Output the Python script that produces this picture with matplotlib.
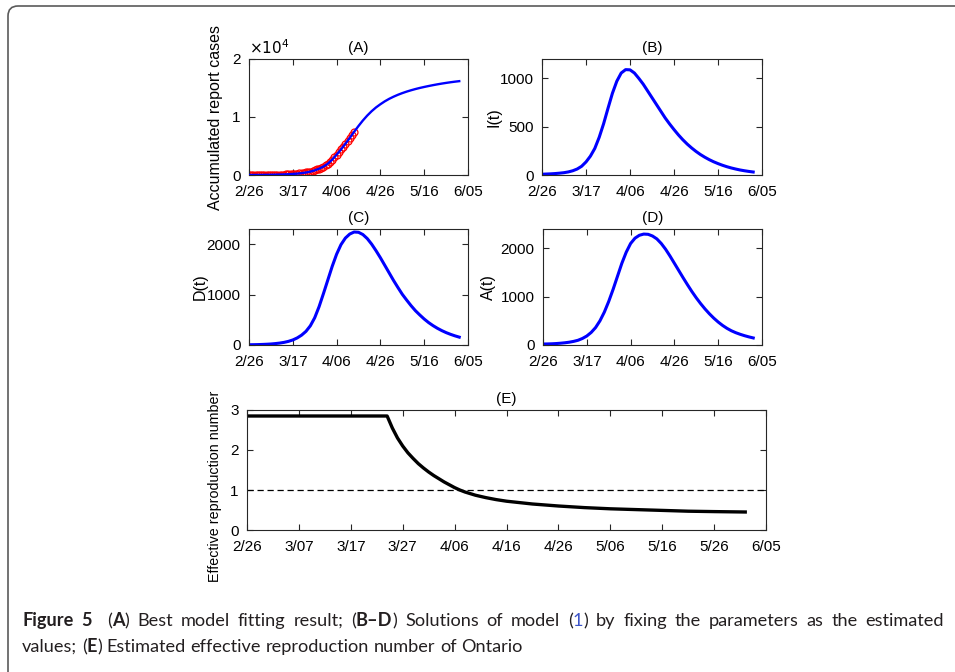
import re
import matplotlib
matplotlib.use("Agg")
import matplotlib.pyplot as plt
from matplotlib.patches import FancyBboxPatch
from matplotlib.font_manager import FontProperties, fontManager

W, H = 955, 672

# ---- data (day 0 = 2/26) ----
xtick_days_20 = [0, 20, 40, 60, 80, 100]
xtick_labels_20 = ['2/26', '3/17', '4/06', '4/26', '5/16', '6/05']
xtick_days_10 = [0, 10, 20, 30, 40, 50, 60, 70, 80, 90, 100]
xtick_labels_10 = ['2/26', '3/07', '3/17', '3/27', '4/06', '4/16',
                   '4/26', '5/06', '5/16', '5/26', '6/05']

# reported cumulative cases (daily, day 0..48)
report_cases = [5, 6, 7, 8, 15, 18, 20, 22, 25, 28, 30,
                32, 34, 37, 41, 59, 79, 103, 145, 177,
                189, 214, 257, 300, 340, 380, 440, 510, 600, 720,
                850, 960, 1100, 1250, 1450, 1700, 1980, 2300, 2660, 3050,
                3500, 3950, 4420, 4900, 5380, 5880, 6380, 6900, 7400]

# model solutions every 2 days (day 0..96)
model_days = list(range(0, 97, 2))
model_cum = [0, 5, 10, 18, 28, 40, 55, 75, 100, 135,
             180, 240, 320, 430, 580, 800, 1080, 1450, 1950, 2650,
             3500, 4400, 5380, 6380, 7450, 8450, 9400, 10250, 11000, 11650,
             12200, 12700, 13130, 13500, 13830, 14120, 14380, 14610, 14820, 15010,
             15180, 15340, 15490, 15630, 15760, 15880, 15990, 16090, 16180]
model_I = [8, 10, 12, 15, 19, 24, 32, 44, 62, 90,
           135, 195, 275, 390, 530, 690, 845, 970, 1055, 1090,
           1088, 1055, 1000, 940, 870, 800, 730, 660, 590, 528,
           470, 415, 365, 320, 280, 244, 212, 184, 159, 137,
           118, 101, 86, 73, 62, 52, 44, 37, 31]
model_D = [5, 6, 8, 11, 15, 20, 28, 38, 52, 72,
           100, 140, 195, 270, 380, 540, 760, 1020, 1290, 1560,
           1800, 1990, 2120, 2200, 2240, 2235, 2190, 2110, 2000, 1870,
           1730, 1580, 1430, 1280, 1140, 1005, 890, 780, 680, 595,
           515, 445, 385, 332, 286, 246, 212, 182, 156]
model_A = [20, 22, 25, 30, 37, 46, 58, 75, 98, 135,
           186, 260, 360, 500, 680, 900, 1150, 1420, 1690, 1920,
           2100, 2210, 2270, 2295, 2290, 2255, 2195, 2100, 1980, 1840,
           1690, 1540, 1390, 1245, 1105, 975, 855, 745, 645, 555,
           475, 405, 345, 295, 255, 222, 193, 168, 146]

# effective reproduction number
rt_days = [0, 27, 28, 29, 30, 31, 32, 33, 34, 35, 36, 37, 38, 39, 40, 41, 42,
           44, 46, 48, 50, 55, 60, 65, 70, 75, 80, 85, 90, 96]
rt_vals = [2.85, 2.85, 2.55, 2.30, 2.10, 1.93, 1.79, 1.66, 1.55, 1.45, 1.36,
           1.28, 1.20, 1.13, 1.06, 1.00, 0.95, 0.87, 0.81, 0.76, 0.72, 0.65,
           0.60, 0.56, 0.53, 0.51, 0.49, 0.47, 0.46, 0.45]

plt.rcParams['font.family'] = ['Liberation Sans', 'DejaVu Sans']
AX_COL = '#262626'
TICK_FS = 11

fig = plt.figure(figsize=(W / 100, H / 100), dpi=100)
fig.patch.set_facecolor('white')


def px_axes(left, top, right, bottom):
    return fig.add_axes([left / W, 1 - bottom / H, (right - left) / W, (bottom - top) / H])


def style(ax, xt, xl, title):
    ax.set_xlim(0, 100)
    ax.set_xticks(xt)
    ax.set_xticklabels(xl)
    ax.tick_params(direction='in', top=True, right=True, length=4, width=0.8,
                   labelsize=TICK_FS, colors=AX_COL, labelcolor='black')
    ax.tick_params(axis='x', pad=7)
    ax.tick_params(axis='y', pad=6)
    for s in ax.spines.values():
        s.set_color(AX_COL)
        s.set_linewidth(0.8)
    ax.set_title(title, fontsize=11, pad=5)


# (A)
axA = px_axes(249, 59, 468, 175)
axA.plot(model_days, model_cum, color='#0000ff', lw=1.7, zorder=3)
axA.plot(range(len(report_cases)), report_cases, 'o', mfc='none', mec='#ff0000',
         ms=5, mew=0.9, zorder=2)
axA.set_ylim(0, 20000)
axA.set_yticks([0, 10000, 20000])
axA.set_yticklabels(['0', '1', '2'])
style(axA, xtick_days_20, xtick_labels_20, '(A)')
axA.text(0.0, 1.02, r'$\times10^{4}$', transform=axA.transAxes, fontsize=11,
         va='bottom', ha='left')
axA.set_ylabel('Accumulated report cases', fontsize=11.5, va='center')
axA.yaxis.set_label_coords(-0.155, 0.5)

# (B)
axB = px_axes(542, 59, 762, 175)
axB.plot(model_days, model_I, color='#0000ff', lw=2.2)
axB.set_ylim(0, 1200)
axB.set_yticks([0, 500, 1000])
style(axB, xtick_days_20, xtick_labels_20, '(B)')
axB.set_ylabel('I(t)', fontsize=11.5, va='center')
axB.yaxis.set_label_coords(-0.218, 0.5)

# (C)
axC = px_axes(249, 229, 468, 345)
axC.plot(model_days, model_D, color='#0000ff', lw=2.2)
axC.set_ylim(0, 2300)
axC.set_yticks([0, 1000, 2000])
style(axC, xtick_days_20, xtick_labels_20, '(C)')
axC.set_ylabel('D(t)', fontsize=11.5, va='center')
axC.yaxis.set_label_coords(-0.224, 0.5)

# (D)
axD = px_axes(543, 229, 762, 345)
axD.plot(model_days, model_A, color='#0000ff', lw=2.2)
axD.set_ylim(0, 2400)
axD.set_yticks([0, 1000, 2000])
style(axD, xtick_days_20, xtick_labels_20, '(D)')
axD.set_ylabel('A(t)', fontsize=11.5, va='center')
axD.yaxis.set_label_coords(-0.247, 0.5)

# (E)
axE = px_axes(247, 410, 766, 530)
axE.plot(rt_days, rt_vals, color='black', lw=2.4)
axE.axhline(1, color='black', lw=0.9, ls=(0, (5, 3)))
axE.set_ylim(0, 3)
axE.set_yticks([0, 1, 2, 3])
style(axE, xtick_days_10, xtick_labels_10, '(E)')
axE.set_ylabel('Effective reproduction number', fontsize=10.3, va='center')
axE.yaxis.set_label_coords(-0.062, 0.36)

# frame around the figure panel
frame = FancyBboxPatch((8, -60), 1100, H - 6 + 60, boxstyle='round,pad=0,rounding_size=10',
                       transform=None, fill=False, ec='#5a5a5a', lw=1.2, clip_on=False)
fig.patches.append(frame)

# caption (justified first line)
names = {f.name for f in fontManager.ttflist}
cap_family = ['Lato', 'DejaVu Sans'] if 'Lato' in names else ['Open Sans', 'DejaVu Sans']
TXT = '#231f20'
line1 = [('Figure 5', 'bold', TXT), ('  (', 'normal', TXT), ('A', 'bold', TXT),
         (') Best model fitting result; (', 'normal', TXT), ('B\u2013D', 'bold', TXT),
         (') Solutions of model (', 'normal', TXT), ('1', 'normal', '#3d55c8'),
         (') by fixing the parameters as the estimated', 'normal', TXT)]
line2 = [('values; (', 'normal', TXT), ('E', 'bold', TXT),
         (') Estimated effective reproduction number of Ontario', 'normal', TXT)]

renderer = fig.canvas.get_renderer()


def text_w(s, size, weight):
    fp = FontProperties(family=cap_family, size=size, weight=weight)
    w, h, d = renderer.get_text_width_height_descent(s, fp, ismath=False)
    return w


def space_w(size, weight):
    return text_w('a a', size, weight) - text_w('aa', size, weight)


def line_w(parts, size):
    total = 0.0
    for s, wt, c in parts:
        for seg in re.split('( )', s):
            if seg == ' ':
                total += space_w(size, wt)
            elif seg:
                total += text_w(seg, size, wt)
    return total


cap_size = 11.0
cap_size = cap_size * 860 / line_w(line1, cap_size)


def rich_line(x, y, parts, target=None):
    n_sp = sum(s.count(' ') for s, wt, c in parts)
    extra = 0.0
    if target is not None:
        extra = (target - line_w(parts, cap_size)) / n_sp
    for s, wt, c in parts:
        for seg in re.split('( )', s):
            if not seg:
                continue
            if seg == ' ':
                x += space_w(cap_size, wt) + extra
                continue
            fig.text(x / W, 1 - y / H, seg, fontsize=cap_size, fontweight=wt, color=c,
                     family=cap_family, va='baseline', ha='left')
            x += text_w(seg, cap_size, wt)


rich_line(22, 626, line1, target=944 - 22)
rich_line(22, 652, line2)

fig.savefig('out.png', dpi=100)
